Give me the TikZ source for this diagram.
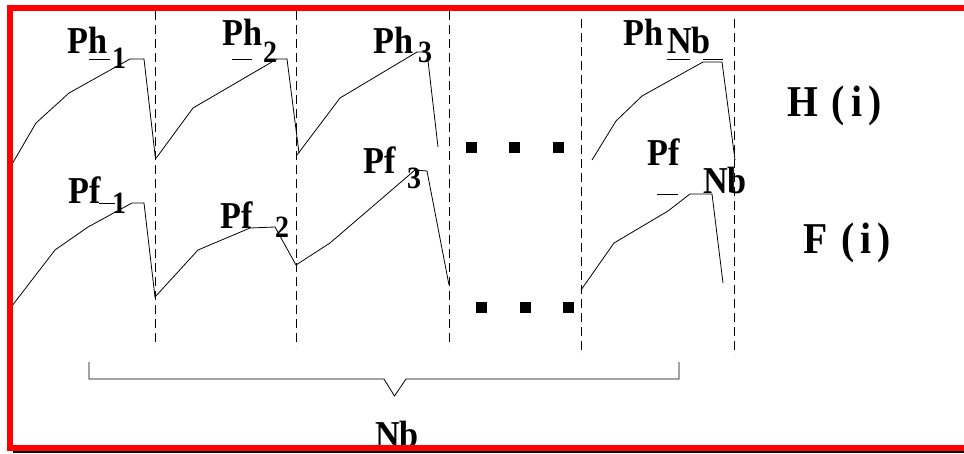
\documentclass[tikz,border=0pt]{standalone}
\usepackage{fontspec}
\setmainfont{Liberation Serif}
\newfontfamily\lblfont[FakeStretch=0.9]{Liberation Serif}
\usetikzlibrary{positioning}

\tikzset{
  lbl/.style={anchor=base west, inner sep=0pt, font=\lblfont\bfseries\fontsize{38}{38}\selectfont},
  sublbl/.style={anchor=base west, inner sep=0pt, font=\lblfont\bfseries\fontsize{31}{31}\selectfont},
  axlbl/.style={anchor=base west, inner sep=0pt, font=\lblfont\bfseries\fontsize{44}{44}\selectfont},
  dotsq/.style={fill, minimum size=11pt, inner sep=0pt},
  sepline/.style={line width=0.8pt, dash pattern=on 9pt off 5pt},
  wave/.style={line width=0.8pt},
}

\begin{document}
\begin{tikzpicture}[x=1pt, y=-1pt, line join=miter]
   \useasboundingbox (0,0) rectangle (964,453);

   % separators between the blocks
   \draw[sepline] (155,11) -- (155,347);
   \draw[sepline] (296,11) -- (296,347);
   \draw[sepline] (449,11) -- (449,347);
   \draw[sepline] (581,19) -- (581,355);
   \draw[sepline] (734,19) -- (734,355);

   % H(i)
   \draw[wave] (12.7,163) -- (36,123) -- (69,93) -- (130,59) -- (144,59)
      -- (155.5,159) -- (193,108) -- (277,59) -- (287,59) -- (299,153);
   \draw[wave] (297,155) -- (340,98) -- (417,52) -- (427,52) -- (438,147);
   \draw[wave] (592,160) -- (616,121) -- (642,96) -- (703,62) -- (722,62) -- (735,160);

   % F(i)
   \draw[wave] (12.7,305) -- (55,250) -- (88,227) -- (132,203) -- (144,203)
      -- (155,297) -- (198,250) -- (250,228) -- (275,227) -- (296,265)
      -- (330,243) -- (415,170) -- (427,171) -- (449,285);
   \draw[wave] (581,290) -- (614,243) -- (668,211) -- (690,194) -- (712,194) -- (723,283);

   % peak labels
   \node[lbl] (ph_1) at (67,53) {Ph};
   \node[sublbl] (ph_1s) at (112,68) {1};
   \node[lbl] (ph_2) at (222,45) {Ph};
   \node[sublbl] (ph_2s) at (263,62) {2};
   \node[lbl] (ph_3) at (373,53) {Ph};
   \node[sublbl] (ph_3s) at (418,62) {3};
   \node[lbl] (ph_nb) at (623,45) {Ph};
   \node[lbl] (ph_nbs) at (667,53) {Nb};

   \node[lbl] (pf_1) at (68,203) {Pf};
   \node[sublbl] (pf_1s) at (112,213) {1};
   \node[lbl] (pf_2) at (220,228) {Pf};
   \node[sublbl] (pf_2s) at (275,237) {2};
   \node[lbl] (pf_3) at (363,173) {Pf};
   \node[sublbl] (pf_3s) at (407,188) {3};
   \node[lbl] (pf_nb) at (647,165) {Pf};
   \node[lbl] (pf_nbs) at (703,193) {Nb};

   % underscores
   \draw[wave] (89,59) -- (110,59);
   \draw[wave] (232,59) -- (252,59);
   \draw[wave] (667,59) -- (690,59);
   \draw[wave] (703,59) -- (723,59);
   \draw[wave] (99,203) -- (115,203);
   \draw[wave] (657,194) -- (678,194);

   % dots
   \node[dotsq] (dh_1) at (471,147) {};
   \node[dotsq] (dh_2) at (514,147) {};
   \node[dotsq] (dh_3) at (558,147) {};
   \node[dotsq] (df_1) at (481.5,307) {};
   \node[dotsq] (df_2) at (525,307) {};
   \node[dotsq] (df_3) at (568.5,307) {};

   \node[axlbl] (h_i) at (787,116) {H\kern14pt(\kern6pt i\kern6pt)};
   \node[axlbl] (f_i) at (803,253) {F\kern14pt(\kern6pt i\kern6pt)};

   % brace over the blocks
   \draw[wave] (89,362) -- (89,379) -- (384,379) -- (394.5,396) -- (406,379)
      -- (679,379) -- (679,362);
   \node[lbl] (nb) at (375,447) {Nb};

   % frame
   \fill (13,451) rectangle (964,453);
   \draw[red, line width=6pt] (964,8) -- (10,8) -- (10,448) -- (964,448);
\end{tikzpicture}
\end{document}
